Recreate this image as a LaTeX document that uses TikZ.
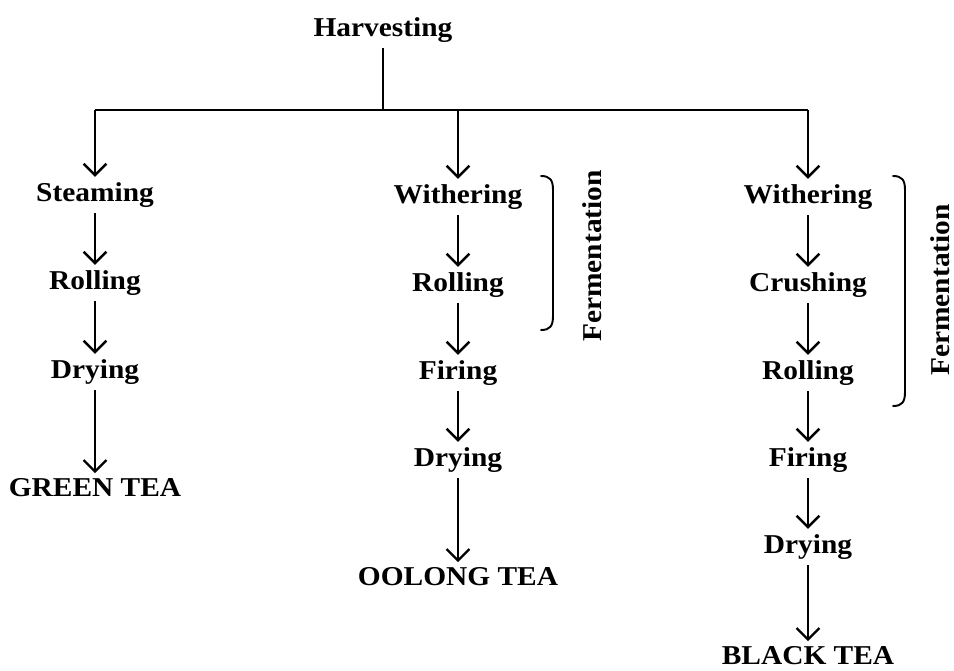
\documentclass[tikz,border=0pt]{standalone}
\usepackage{fontspec}
\setmainfont{Liberation Serif}[FakeStretch=1.08]
\usetikzlibrary{arrows.meta}

\tikzset{
  stage/.style={font=\fontsize{15.5}{18}\selectfont\bfseries, inner sep=3pt},
  flow/.style={line width=1.4pt, -{Straight Barb[length=6.5pt,width=13pt,line width=1.4pt]}},
  brace/.style={line width=1.1pt, line cap=round}
}

\begin{document}
\begin{tikzpicture}[x=0.02cm, y=-0.02cm]
\useasboundingbox (0,0) rectangle (954,670);
% top
\node[stage] (harv) at (383,30) {Harvesting};
\coordinate (split) at (383,110);
\coordinate (left) at (95,110);
\coordinate (mid) at (458,110);
\coordinate (right) at (808,110);
\draw[line width=1.4pt] (harv.south) -- (split);
\draw[line width=1.4pt] (left) -- (right);
% green tea
\node[stage] (steam) at (95,195) {Steaming};
\node[stage] (groll) at (95,283) {Rolling};
\node[stage] (gdry) at (95,372) {Drying};
\node[stage] (green) at (95,488) {GREEN TEA};
\draw[flow] (left) -- (steam);
\draw[flow] (steam) -- (groll);
\draw[flow] (groll) -- (gdry);
\draw[flow] (gdry) -- (green);
% oolong tea
\node[stage] (owith) at (458,197) {Withering};
\node[stage] (oroll) at (458,285) {Rolling};
\node[stage] (ofire) at (458,373) {Firing};
\node[stage] (odry) at (458,460) {Drying};
\node[stage] (oolong) at (458,577) {OOLONG TEA};
\draw[flow] (mid) -- (owith);
\draw[flow] (owith) -- (oroll);
\draw[flow] (oroll) -- (ofire);
\draw[flow] (ofire) -- (odry);
\draw[flow] (odry) -- (oolong);
\draw[brace] (541,176) .. controls (550,176) and (553,180) .. (553,190) -- (553,316) .. controls (553,326) and (550,330) .. (541,330);
\node[stage, rotate=90] (oferm) at (592,256) {Fermentation};
% black tea
\node[stage] (bwith) at (808,197) {Withering};
\node[stage] (bcrush) at (808,285) {Crushing};
\node[stage] (broll) at (808,373) {Rolling};
\node[stage] (bfire) at (808,460) {Firing};
\node[stage] (bdry) at (808,547) {Drying};
\node[stage] (black) at (808,656) {BLACK TEA};
\draw[flow] (right) -- (bwith);
\draw[flow] (bwith) -- (bcrush);
\draw[flow] (bcrush) -- (broll);
\draw[flow] (broll) -- (bfire);
\draw[flow] (bfire) -- (bdry);
\draw[flow] (bdry) -- (black);
\draw[brace] (893,176) .. controls (902,176) and (905,180) .. (905,190) -- (905,392) .. controls (905,402) and (902,406) .. (893,406);
\node[stage, rotate=90] (bferm) at (940,290) {Fermentation};
\end{tikzpicture}
\end{document}
